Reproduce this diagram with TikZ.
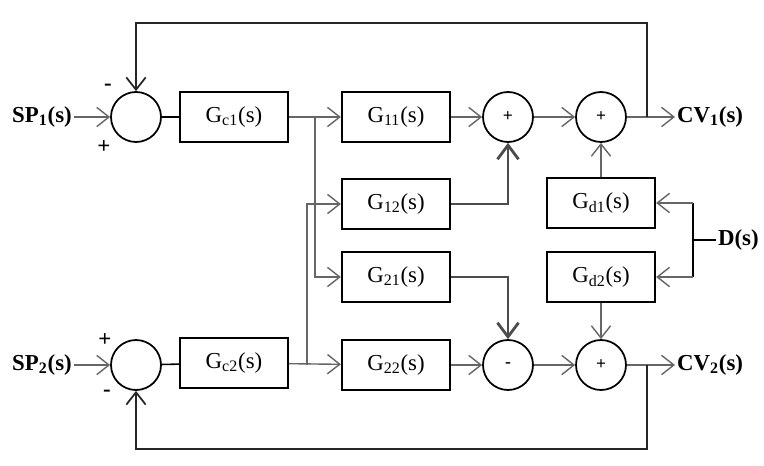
\documentclass[tikz,border=0pt]{standalone}
\usepackage{fontspec}
\setmainfont{Liberation Serif}
\usetikzlibrary{arrows.meta}

\tikzset{
  blk/.style={draw, line width=1.3pt, minimum width=2.16cm, minimum height=1cm, inner sep=0pt, font=\fontsize{13}{15}\selectfont},
  summ/.style={circle, draw, line width=1pt, minimum size=1cm, inner sep=0pt, font=\fontsize{10}{10}\selectfont\bfseries},
  lbl/.style={inner sep=1pt, font=\fontsize{13}{15}\selectfont\bfseries},
  sgn/.style={inner sep=0pt, font=\fontsize{13}{13}\selectfont\bfseries},
  sig/.style={draw=black!60, line width=0.8pt, -{Straight Barb[length=7pt,width=11pt]}},
  heavy/.style={draw=black!70, line width=1.6pt, -{Straight Barb[length=8pt,width=12pt]}},
  fb/.style={draw=black!85, line width=1pt, -{Straight Barb[length=7pt,width=11pt]}},
  wire/.style={draw=black, line width=0.9pt},
}

\begin{document}
\begin{tikzpicture}[x=0.02cm, y=-0.02cm]
\useasboundingbox (0,0) rectangle (764,466);

\node[summ] (s1) at (136,117) {};
\node[summ] (s2) at (136,365) {};
\node[blk] (gc1) at (234,117) {G\textsubscript{c1}(s)};
\node[blk] (gc2) at (234,363) {G\textsubscript{c2}(s)};
\foreach \n/\y in {11/117,12/204,21/277,22/365}
  \node[blk] (g\n) at (396,\y) {G\textsubscript{\n}(s)};
\node[summ] (s3) at (508,117) {+};
\node[summ] (s4) at (508,365) {-};
\node[summ] (s5) at (601,117) {+};
\node[summ] (s6) at (601,365) {+};
\node[blk] (gd1) at (601,203) {G\textsubscript{d1}(s)};
\node[blk] (gd2) at (601,277) {G\textsubscript{d2}(s)};

\node[lbl] (sp1) at (42,117) {SP\textsubscript{1}(s)};
\node[lbl] (sp2) at (42,365) {SP\textsubscript{2}(s)};
\node[lbl, anchor=west] (cv1) at (675,117) {CV\textsubscript{1}(s)};
\node[lbl, anchor=west] (cv2) at (675,365) {CV\textsubscript{2}(s)};
\node[lbl, anchor=west] (dist) at (716,240) {D(s)};

\node[sgn] (m1) at (108,87) {-};
\node[sgn] (p1) at (104,147) {+};
\node[sgn] (p2) at (105,340) {+};
\node[sgn] (m2) at (107,393) {-};

\coordinate (b1) at (315,117);
\coordinate (b2) at (307,365);
\coordinate (f1) at (647,117);
\coordinate (t1) at (647,23);
\coordinate (f2) at (647,365);
\coordinate (t2) at (647,449);
\coordinate (d1) at (693,203);
\coordinate (d2) at (693,277);
\coordinate (dj) at (693,240);

\draw[sig] (sp1) -- (s1);
\draw[sig] (sp2) -- (s2);
\draw[wire] (s1) -- (gc1);
\draw[wire] (s2) -- (gc2);
\draw[sig] (gc1) -- (g11);
\draw[sig] (gc2) -- (g22);
\draw[sig] (b1) |- (g21);
\draw[sig] (b2) |- (g12);
\draw[sig] (g11) -- (s3);
\draw[sig] (g22) -- (s4);
\draw[heavy] (g12) -| (s3);
\draw[heavy] (g21) -| (s4);
\draw[sig] (s3) -- (s5);
\draw[sig] (s4) -- (s6);
\draw[sig] (gd1) -- (s5);
\draw[sig] (gd2) -- (s6);
\draw[sig] (s5) -- (cv1);
\draw[sig] (s6) -- (cv2);

\draw[wire] (d1) -- (d2);
\draw[wire] (dj) -- (dist);
\draw[sig] (d1) -- (gd1);
\draw[sig] (d2) -- (gd2);

\draw[fb] (f1) -- (t1) -| (s1.north);
\draw[fb] (f2) -- (t2) -| (s2.south);
\end{tikzpicture}
\end{document}
